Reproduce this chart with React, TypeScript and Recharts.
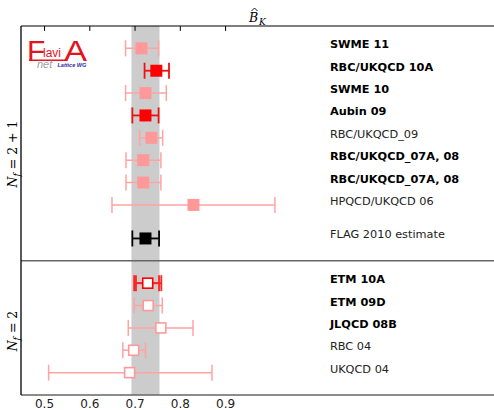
import React from 'react';
import { ComposedChart, Scatter, XAxis, YAxis, ErrorBar, ReferenceArea, ReferenceLine } from 'recharts';

const labels = [
  'SWME 11', 'RBC/UKQCD 10A', 'SWME 10', 'Aubin 09', 'RBC/UKQCD_09',
  'RBC/UKQCD_07A, 08', 'RBC/UKQCD_07A, 08', 'HPQCD/UKQCD 06', 'FLAG 2010 estimate',
  'ETM 10A', 'ETM 09D', 'JLQCD 08B', 'RBC 04', 'UKQCD 04',
];
const rows = [1, 2, 3, 4, 5, 6, 7, 8, 9.5, 11.5, 12.5, 13.5, 14.5, 15.5];
const values = [0.714, 0.747, 0.723, 0.723, 0.736, 0.718, 0.718, 0.829, 0.723, 0.728, 0.729, 0.757, 0.697, 0.688];
const lowers = [0.679, 0.721, 0.679, 0.694, 0.710, 0.680, 0.680, 0.649, 0.694, 0.698, 0.698, 0.685, 0.673, 0.509];
const uppers = [0.752, 0.775, 0.769, 0.752, 0.761, 0.757, 0.757, 1.009, 0.753, 0.758, 0.760, 0.828, 0.723, 0.870];
const innerLowers = [NaN, NaN, NaN, NaN, NaN, NaN, NaN, NaN, NaN, 0.702, NaN, NaN, NaN, NaN];
const innerUppers = [NaN, NaN, NaN, NaN, NaN, NaN, NaN, NaN, NaN, 0.753, NaN, NaN, NaN, NaN];
const kinds = ['pink', 'red', 'pink', 'red', 'pink', 'pink', 'pink', 'pink', 'black', 'redOpen', 'pinkOpen', 'pinkOpen', 'pinkOpen', 'pinkOpen'];
const boldLabels = [true, true, true, true, false, true, true, false, false, true, true, true, false, false];
const band = [0.692, 0.754];
const xTicks = [0.5, 0.6, 0.7, 0.8, 0.9];
const separatorRow = 10.5;
const yDomain = [0, 16.5];
const xDomain = [0.448, 1.493];
const LABEL_X = 1.1305;

const PINK = '#ff9999';
const RED = '#ff0000';

const kindStyle: Record<string, { color: string; open: boolean; bar: string; bw: number }> = {
  pink: { color: PINK, open: false, bar: '#ffa3a3', bw: 1.5 },
  red: { color: RED, open: false, bar: '#ee1111', bw: 1.8 },
  black: { color: '#000000', open: false, bar: '#000000', bw: 1.8 },
  redOpen: { color: RED, open: true, bar: '#ff2222', bw: 1.8 },
  pinkOpen: { color: PINK, open: true, bar: '#ffa3a3', bw: 1.5 },
};

const allPoints = labels.map((label, i) => ({
  label,
  x: values[i],
  y: rows[i],
  err: [values[i] - lowers[i], uppers[i] - values[i]],
  errIn: isNaN(innerLowers[i]) ? undefined : [values[i] - innerLowers[i], innerUppers[i] - values[i]],
  kind: kinds[i],
}));

const labelPoints = labels.map((label, i) => ({ label, x: LABEL_X, y: rows[i], bold: boldLabels[i] }));

const makeSquare = (color: string, open: boolean) => (props: any) => {
  const { cx, cy } = props;
  if (cx == null || cy == null) return <g />;
  if (open) {
    const s = 10;
    return <rect x={cx - s / 2} y={cy - s / 2} width={s} height={s} fill="#ffffff" stroke={color} strokeWidth={1.6} />;
  }
  const s = 12;
  return <rect x={cx - s / 2} y={cy - s / 2} width={s} height={s} fill={color} stroke="none" />;
};

const LabelShape = (props: any) => {
  const { cx, cy, payload } = props;
  if (cx == null || cy == null) return <g />;
  const bold = payload && payload.bold;
  return (
    <text
      x={cx}
      y={cy}
      fontFamily="DejaVu Sans"
      fontSize={11.3}
      fontWeight={bold ? 'bold' : 'normal'}
      fill={bold ? '#000' : '#222'}
    >
      {payload ? payload.label : ''}
    </text>
  );
};

export default function App() {
  const groups = Object.keys(kindStyle);
  return (
    <div style={{ position: 'absolute', left: 0, top: 0, width: 494, height: 410, background: '#fff' }}>
      <ComposedChart width={494} height={410} margin={{ top: 0, right: 0, bottom: 0, left: 0 }}>
        <XAxis
          xAxisId="top"
          orientation="top"
          type="number"
          dataKey="x"
          domain={xDomain}
          allowDataOverflow
          height={26}
          ticks={xTicks}
          tick={false}
          tickLine={false}
          axisLine={{ stroke: '#000', strokeWidth: 1.2 }}
        />
        <XAxis
          xAxisId="bottom"
          orientation="bottom"
          type="number"
          dataKey="x"
          domain={xDomain}
          allowDataOverflow
          height={15}
          ticks={xTicks}
          tickSize={0}
          tickMargin={4}
          tickLine={false}
          tickFormatter={(v: number) => v.toFixed(1)}
          tick={{ fontFamily: 'DejaVu Sans', fontSize: 12, fill: '#222' }}
          axisLine={{ stroke: '#666', strokeWidth: 1.5 }}
        />
        <YAxis
          yAxisId="y"
          type="number"
          dataKey="y"
          domain={yDomain}
          reversed
          allowDataOverflow
          width={21}
          tick={false}
          tickLine={false}
          axisLine={{ stroke: '#000', strokeWidth: 1.3 }}
        />
        <ReferenceArea xAxisId="bottom" yAxisId="y" x1={band[0]} x2={band[1]} fill="#cccccc" fillOpacity={1} stroke="none" ifOverflow="hidden" />
        <ReferenceLine xAxisId="bottom" yAxisId="y" y={separatorRow} stroke="#666" strokeWidth={1.5} />
        {xTicks.map((t) => (
          <ReferenceLine
            key={'tk' + t}
            xAxisId="bottom"
            yAxisId="y"
            segment={[{ x: t, y: 0 }, { x: t, y: 0.22 }]}
            stroke="#000"
            strokeWidth={1}
            ifOverflow="visible"
          />
        ))}
        {groups.map((g) => {
          const st = kindStyle[g];
          const data = allPoints.filter((p) => p.kind === g);
          return (
            <Scatter
              key={g}
              xAxisId="bottom"
              yAxisId="y"
              data={data}
              dataKey="x"
              isAnimationActive={false}
              shape={makeSquare(st.color, st.open)}
            >
              <ErrorBar dataKey="err" direction="x" width={8} stroke={st.bar} strokeWidth={st.bw} isAnimationActive={false} />
              {g === 'redOpen' ? (
                <ErrorBar dataKey="errIn" direction="x" width={8} stroke={st.bar} strokeWidth={st.bw} isAnimationActive={false} />
              ) : null}
            </Scatter>
          );
        })}
        <Scatter
          xAxisId="bottom"
          yAxisId="y"
          data={labelPoints}
          dataKey="x"
          isAnimationActive={false}
          shape={LabelShape}
        />
      </ComposedChart>
      <svg width={494} height={410} style={{ position: 'absolute', left: 0, top: 0, pointerEvents: 'none' }}>
        {/* title */}
        <text x={249} y={21.5} fontFamily="DejaVu Serif" fontStyle="italic" fontSize={12.5} fill="#000">B</text>
        <polyline points="251.5,11 254.5,8 257.5,11" fill="none" stroke="#000" strokeWidth={0.9} />
        <text x={259} y={24.5} fontFamily="DejaVu Serif" fontStyle="italic" fontSize={9} fill="#000">K</text>
        {/* N_f labels */}
        <text transform="translate(17,154) rotate(-90)" textAnchor="middle" fontFamily="DejaVu Serif" fontSize={12.5} fill="#000">
          <tspan fontStyle="italic">N</tspan>
          <tspan fontStyle="italic" fontSize={9} dy={3}>f</tspan>
          <tspan dy={-3}>{' = 2 + 1'}</tspan>
        </text>
        <text transform="translate(17,331) rotate(-90)" textAnchor="middle" fontFamily="DejaVu Serif" fontSize={12.5} fill="#000">
          <tspan fontStyle="italic">N</tspan>
          <tspan fontStyle="italic" fontSize={9} dy={3}>f</tspan>
          <tspan dy={-3}>{' = 2'}</tspan>
        </text>
        {/* logo */}
        <text x={27} y={61} fontFamily="Liberation Sans" fontSize={30} fill="#e3141c">F</text>
        <text x={43} y={57} fontFamily="Liberation Sans" fontSize={12} fill="#e3141c">lavi</text>
        <line x1={29} y1={60.3} x2={66} y2={60.3} stroke="#e3141c" strokeWidth={1.6} />
        <text x={64} y={61} fontFamily="Liberation Sans" fontSize={30} fill="#e3141c" transform="translate(64,61) scale(1.15,1) translate(-64,-61)">A</text>
        <text x={37} y={68} fontFamily="Liberation Sans" fontStyle="italic" fontSize={11} fill="#a0a0a0">net</text>
        <text x={57.5} y={67} fontFamily="Liberation Sans" fontStyle="italic" fontWeight="bold" fontSize={5.5} fill="#2a2aa0">Lattice WG</text>
      </svg>
    </div>
  );
}
